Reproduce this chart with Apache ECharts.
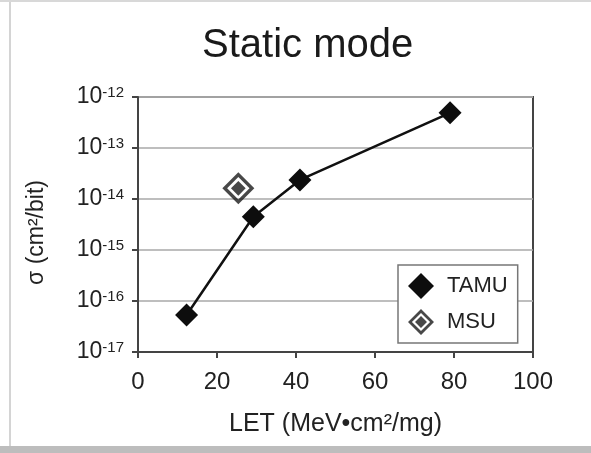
<!DOCTYPE html>
<html>
<head>
<meta charset="utf-8">
<script src="https://cdn.jsdelivr.net/npm/echarts@6/dist/echarts.min.js"></script>
<style>html,body{margin:0;padding:0;background:#fff;}#c{width:591px;height:453px;}</style>
</head>
<body>
<div id="c"></div>
<script>
// Data
var tamuLET = [12.3, 29.2, 41.0, 79.0];
var tamuSigma = [5.3e-17, 4.5e-15, 2.36e-14, 4.9e-13];
var msuLET = [25.4];
var msuSigma = [1.62e-14];
var xTicks = [0, 20, 40, 60, 80, 100];
var yExponents = [-17, -16, -15, -14, -13, -12];

var FONT = '"Liberation Sans", Arial, Helvetica, sans-serif';
var TXT = '#222';
var msuPath = 'path://M50 0 L100 50 L50 100 L0 50 Z M50 15 L15 50 L50 85 L85 50 Z M50 27 L73 50 L50 73 L27 50 Z';

var chart = echarts.init(document.getElementById('c'), null, {renderer: 'canvas'});
var option = {
  backgroundColor: '#ffffff',
  animation: false,
  title: {
    text: 'Static mode',
    left: 202, top: 26, padding: 0,
    textStyle: {fontFamily: FONT, fontSize: 40, fontWeight: 'normal', color: '#1a1a1a'}
  },
  grid: {
    left: 138, right: 58, top: 97, bottom: 101,
    show: true, borderColor: '#444', borderWidth: 2, backgroundColor: 'transparent'
  },
  legend: {
    orient: 'vertical',
    left: 398, top: 265,
    width: 120,
    padding: [8, 10, 8, 10],
    itemGap: 10,
    itemWidth: 26, itemHeight: 26,
    borderColor: '#777', borderWidth: 1.5,
    backgroundColor: '#fff',
    textStyle: {fontFamily: FONT, fontSize: 22, color: TXT, padding: [0, 0, 0, 8]},
    data: [
      {name: 'TAMU', icon: 'diamond'},
      {name: 'MSU', icon: msuPath}
    ]
  },
  xAxis: {
    type: 'value', min: 0, max: 100, interval: 20,
    name: 'LET (MeV•cm²/mg)',
    nameLocation: 'middle', nameGap: 60,
    nameTextStyle: {fontFamily: FONT, fontSize: 25, color: TXT},
    axisLine: {show: true, lineStyle: {color: '#444', width: 2}},
    axisTick: {show: true, length: 6, lineStyle: {color: '#444', width: 2}},
    axisLabel: {
      margin: 18, fontFamily: FONT, fontSize: 24, color: TXT,
      formatter: function (v) { return xTicks.indexOf(v) >= 0 ? String(v) : ''; }
    },
    splitLine: {show: false}
  },
  yAxis: {
    type: 'log', logBase: 10, min: 1e-17, max: 1e-12,
    name: 'σ (cm²/bit)',
    nameLocation: 'middle', nameGap: 90, nameRotate: 90,
    nameTextStyle: {fontFamily: FONT, fontSize: 23, color: TXT, padding: [0, 16, 0, 0]},
    axisLine: {show: true, lineStyle: {color: '#444', width: 2}},
    axisTick: {show: true, length: 6, lineStyle: {color: '#444', width: 2}},
    axisLabel: {
      margin: 14, fontFamily: FONT, color: TXT,
      formatter: function (v) {
        var e = Math.round(Math.log10(v));
        if (yExponents.indexOf(e) < 0) return '';
        return '{b|10}{s|' + e + '}';
      },
      rich: {
        b: {fontFamily: FONT, fontSize: 23, color: TXT, lineHeight: 24},
        s: {fontFamily: FONT, fontSize: 15, color: TXT, verticalAlign: 'top', lineHeight: 24, padding: [0, 0, 12, 0]}
      }
    },
    splitLine: {show: true, lineStyle: {color: '#a8a8a8', width: 1.5}}
  },
  series: [
    {
      name: 'TAMU', type: 'line',
      data: tamuLET.map(function (x, i) { return [x, tamuSigma[i]]; }),
      symbol: 'diamond', symbolSize: 23,
      itemStyle: {color: '#0d0d0d'},
      lineStyle: {color: '#111', width: 2.5},
      z: 3
    },
    {
      name: 'MSU', type: 'scatter',
      data: msuLET.map(function (x, i) { return [x, msuSigma[i]]; }),
      symbol: msuPath, symbolSize: 32,
      itemStyle: {color: '#1a1a1a'},
      z: 4
    }
  ],
  graphic: [
    {type: 'rect', shape: {x: 0, y: 0, width: 591, height: 2}, style: {fill: '#d8d8d8'}, silent: true},
    {type: 'rect', shape: {x: 9, y: 2, width: 2, height: 444}, style: {fill: '#d4d4d4'}, silent: true},
    {type: 'rect', shape: {x: 0, y: 446, width: 591, height: 7}, style: {fill: '#bdbdbd'}, silent: true}
  ]
};
chart.setOption(option);
</script>
</body>
</html>
